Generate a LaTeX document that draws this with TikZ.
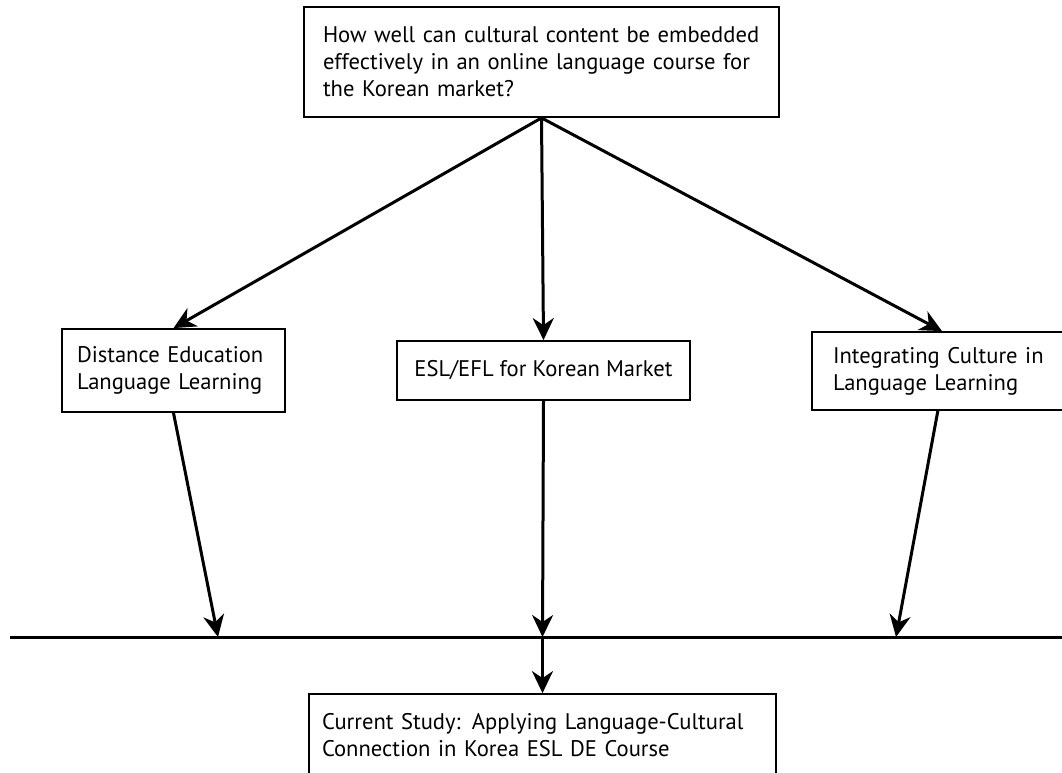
\documentclass[tikz,border=0pt]{standalone}
\usepackage{fontspec}
\setmainfont{PT Sans}
\usetikzlibrary{arrows.meta,calc}
\begin{document}
\begin{tikzpicture}[x=1pt,y=-1pt,
  box/.style={draw, line width=1.8pt, inner sep=0pt, font=\fontsize{22.6}{27}\selectfont},
  arr/.style={line width=3pt, -{Stealth[length=22pt,width=21pt,inset=7pt]}},
  plain/.style={line width=3pt}]
\useasboundingbox (0,0) rectangle (1062,772);
\node[box, minimum width=475pt, minimum height=110pt, text width=437pt, align=left] (t) at (541.5,62)
  {How well can cultural content be embedded\\effectively in an online language course for\\the Korean market?};
\node[box, minimum width=223pt, minimum height=83pt, text width=193pt, align=left] (l) at (173.5,370.5)
  {Distance Education\\Language Learning};
\node[box, minimum width=293pt, minimum height=59pt, align=center] (m) at (543.5,370.5)
  {ESL/EFL for Korean Market};
\node[box, minimum width=260pt, minimum height=78pt, text width=218pt, align=left] (r) at (942,371)
  {Integrating Culture in\\Language Learning};
\node[box, minimum width=467pt, minimum height=82pt, text width=441pt, align=left] (b) at (542.5,735)
  {Current Study: Applying Language-Cultural\\Connection in Korea ESL DE Course};
\coordinate (L) at (10,637);
\coordinate (R) at (1070,637);
\coordinate (hl) at (218,637);
\coordinate (hm) at (542.5,637);
\coordinate (hr) at (896,637);
\coordinate (rs) at (938,410);
\draw[plain] (L) -- (R);
\draw[arr] (t.south) -- (l.north);
\draw[arr] (t.south) -- (m.north);
\draw[arr] (t.south) -- (r.north);
\draw[arr] (l.south) -- (hl);
\draw[arr] (m.south) -- (hm);
\draw[arr] (rs) -- (hr);
\draw[arr] (hm) -- (b.north);
\end{tikzpicture}
\end{document}
